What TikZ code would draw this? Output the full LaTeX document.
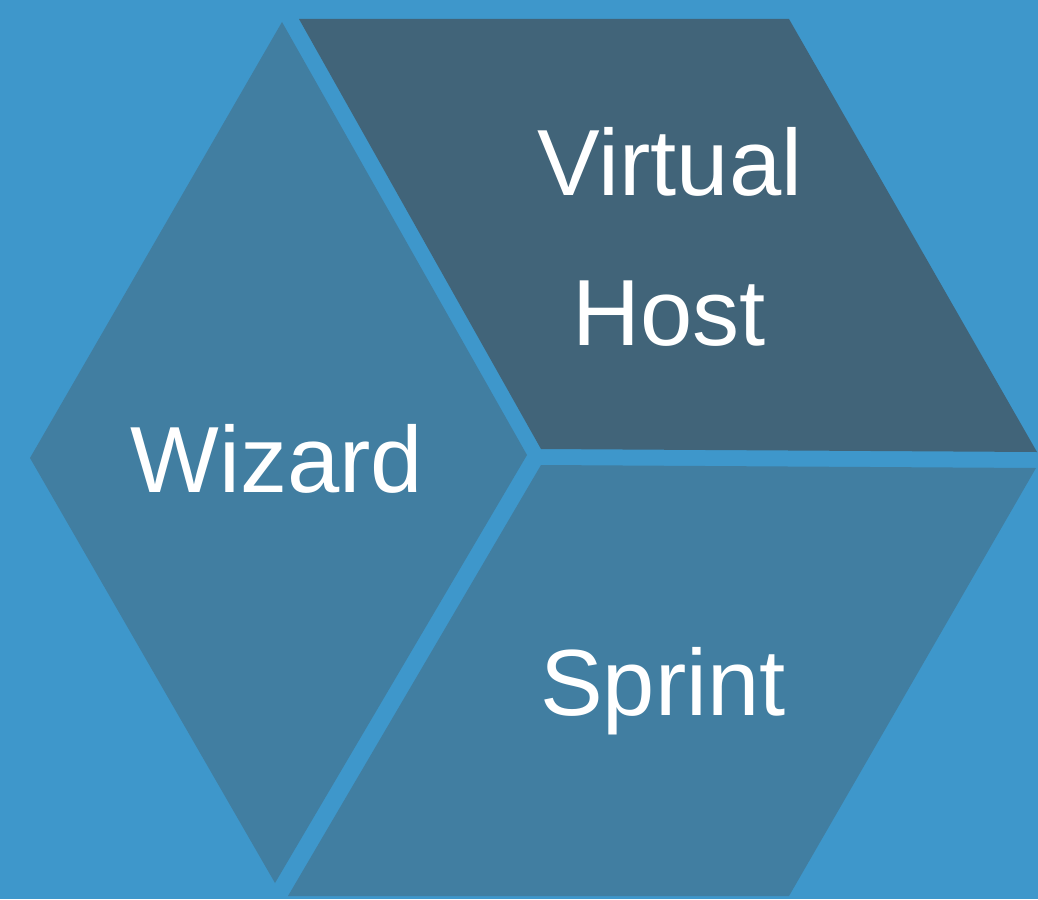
\documentclass[tikz,border=0pt]{standalone}
\usepackage{fontspec}
\setmainfont{Liberation Sans}
\definecolor{bgblue}{RGB}{62,151,203}
\definecolor{midblue}{RGB}{65,126,161}
\definecolor{darkblue}{RGB}{65,100,121}
\tikzset{
  face/.style={draw=none},
  lbl/.style={text=white,font=\fontsize{94}{150}\selectfont,anchor=base,inner sep=0pt,align=center}
}
\begin{document}
\begin{tikzpicture}[x=1pt,y=-1pt]
\fill[bgblue] (0,0) rectangle (1038,899);
\useasboundingbox (0,0) rectangle (1038,899);
% left rhombus
\fill[midblue,face] (282,22) -- (30,458) -- (275,883) -- (527,455) -- cycle;
% top rhombus
\fill[darkblue,face] (299,19) -- (789,19) -- (1037,452) -- (541,449) -- cycle;
% bottom rhombus
\fill[midblue,face] (541,465) -- (1036,468) -- (789,896) -- (288,896) -- cycle;
\node[lbl] (wiz) at (277,492) {Wizard};
\node[lbl] (vh1) at (670,195) {Virtual};
\node[lbl] (vh2) at (669,345) {Host};
\node[lbl] (spr) at (663,715) {Sprint};
\end{tikzpicture}
\end{document}
